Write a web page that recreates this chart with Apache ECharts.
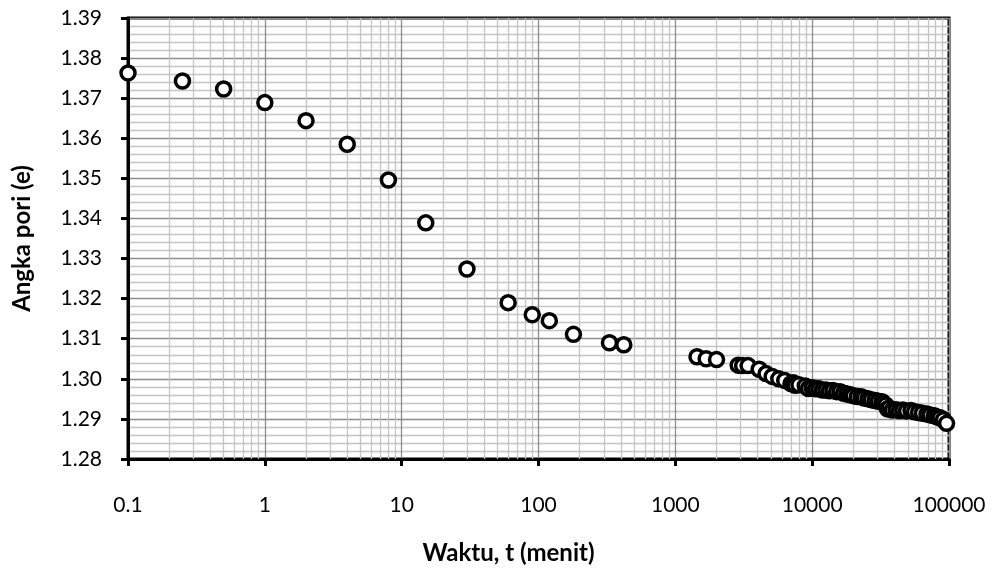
<!DOCTYPE html>
<html>
<head>
<meta charset="utf-8">
<script src="https://cdn.jsdelivr.net/npm/echarts@6/dist/echarts.min.js"></script>
<style>
html,body{margin:0;padding:0;background:#fff;}
#chart{width:993px;height:570px;}
</style>
</head>
<body>
<div id="chart"></div>
<script>
// Time (minutes)
const timeMin = [0.1, 0.25, 0.5, 1, 2, 4, 8, 15, 30, 60, 90, 120, 180, 330, 420,
  1440, 1680, 2000, 2880, 3100, 3400, 4100, 4600, 5100, 5700, 6300, 7000, 7300, 7500, 8000, 8900, 9400,
  10000, 10600, 11200, 11900, 12600, 13400, 14200, 15100, 16000, 17000, 18000, 19000, 20000, 21400,
  22800, 24000, 25600, 27000, 28800, 30500, 32400, 33000, 34500, 35500, 36500, 38500,
  41000, 43500, 46000, 49000, 52800, 56000, 60000, 64000, 69000, 73000, 78000, 82000, 86000, 91000, 96000];
// Void ratio e
const voidRatio = [1.3763, 1.3743, 1.3723, 1.3689, 1.3644, 1.3585, 1.3496, 1.3389, 1.3274, 1.3190, 1.3160, 1.3145, 1.3111, 1.3090, 1.3085,
  1.3055, 1.3050, 1.3048, 1.3034, 1.3033, 1.3033, 1.3024, 1.3013, 1.3006, 1.3000, 1.2996, 1.2988, 1.2990, 1.2984, 1.2985, 1.2982, 1.2976,
  1.2978, 1.2975, 1.2975, 1.2972, 1.2972, 1.2970, 1.2971, 1.2968, 1.2968, 1.2964, 1.2962, 1.2960, 1.2958, 1.2956,
  1.2955, 1.2952, 1.2950, 1.2948, 1.2946, 1.2944, 1.2943, 1.2940, 1.2935, 1.2925, 1.2927, 1.2922,
  1.2923, 1.2921, 1.2922, 1.2920, 1.2921, 1.2918, 1.2916, 1.2914, 1.2912, 1.2910, 1.2908, 1.2905, 1.2903, 1.2898, 1.2889];
// Axis ticks
const xTickLabels = ['0.1', '1', '10', '100', '1000', '10000', '100000'];
const yTicks = [1.28, 1.29, 1.30, 1.31, 1.32, 1.33, 1.34, 1.35, 1.36, 1.37, 1.38, 1.39];
const decades = [0.1, 1, 10, 100, 1000, 10000];
const minorMultipliers = [2, 3, 4, 5, 6, 7, 8, 9];

const minorX = [];
decades.forEach(d => minorMultipliers.forEach(m => minorX.push({xAxis: +(d * m).toPrecision(3)})));

const fontFam = 'Lato, "Open Sans", sans-serif';
const chart = echarts.init(document.getElementById('chart'), null, {renderer: 'canvas'});
chart.setOption({
  animation: false,
  backgroundColor: '#fff',
  grid: {left: 128, right: 44, top: 18, bottom: 108, show: true, borderColor: '#000', borderWidth: 3, backgroundColor: 'transparent'},
  xAxis: {
    type: 'log', logBase: 10, min: 0.1, max: 100000, z: 3,
    name: 'Waktu, t (menit)', nameLocation: 'middle', nameGap: 82,
    nameTextStyle: {fontFamily: fontFam, fontSize: 24, fontWeight: 'bold', color: '#000', padding: [0, 60, 0, 0]},
    axisLine: {show: true, onZero: false, lineStyle: {color: '#000', width: 3}},
    axisTick: {show: true, inside: false, length: 7, lineStyle: {color: '#000', width: 3}},
    axisLabel: {margin: 36, fontFamily: fontFam, fontSize: 21, color: '#000',
      formatter: (v) => { const i = Math.round(Math.log10(v)) + 1; return xTickLabels[i] !== undefined ? xTickLabels[i] : ''; }},
    splitLine: {show: true, lineStyle: {color: '#8c8c8c', width: 1.3}},
    minorTick: {show: false},
    minorSplitLine: {show: false}
  },
  yAxis: {
    type: 'value', min: yTicks[0], max: yTicks[yTicks.length - 1], interval: 0.01, z: 3,
    name: 'Angka pori (e)', nameLocation: 'middle', nameGap: 94, nameRotate: 90,
    nameTextStyle: {fontFamily: fontFam, fontSize: 24, fontWeight: 'bold', color: '#000'},
    axisLine: {show: true, onZero: false, lineStyle: {color: '#000', width: 3}},
    axisTick: {show: true, inside: false, length: 7, lineStyle: {color: '#000', width: 3}},
    axisLabel: {margin: 26, fontFamily: fontFam, fontSize: 21, color: '#000', formatter: v => v.toFixed(2)},
    splitLine: {show: true, lineStyle: {color: '#8c8c8c', width: 1.3}},
    minorTick: {show: false, splitNumber: 5},
    minorSplitLine: {show: true, lineStyle: {color: '#c4c4c4', width: 1.3}}
  },
  series: [
    {
      type: 'line', data: [], z: 1, silent: true,
      markLine: {silent: true, symbol: 'none', label: {show: false},
        lineStyle: {color: '#c4c4c4', width: 1.3, type: 'solid'}, data: minorX, animation: false}
    },
    {
      type: 'scatter', z: 5,
      data: timeMin.map((t, i) => [t, voidRatio[i]]),
      symbol: 'circle', symbolSize: 14,
      itemStyle: {color: '#fff', borderColor: '#000', borderWidth: 3.5, opacity: 1}
    }
  ]
});
</script>
</body>
</html>
